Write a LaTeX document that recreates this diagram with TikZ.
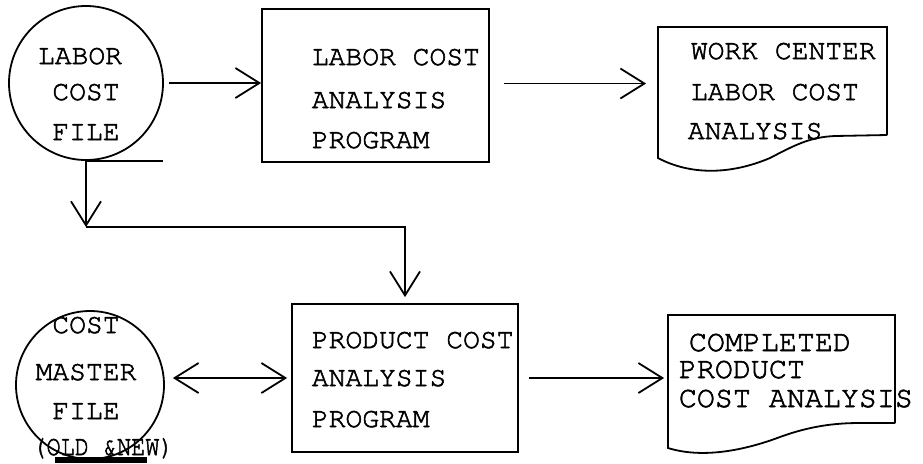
\documentclass[tikz,border=0pt]{standalone}
\usepackage{fontspec}
\setmonofont{texgyrecursor}[Extension=.otf,UprightFont=*-regular,UprightFeatures={FakeBold=2}]
\usetikzlibrary{arrows.meta,fit}

\begin{document}
\begin{tikzpicture}[x=0.5pt,y=-0.5pt,line width=0.9pt,
  tx/.style={font=\ttfamily\fontsize{14}{16}\selectfont,inner sep=0pt,anchor=base west},
  ctx/.style={tx,anchor=base},
  frame/.style={draw,inner sep=0pt},
  area/.style={inner sep=0pt},
  tape/.style={draw,circle,inner sep=0pt,minimum size=#1},
  barb/.tip={Straight Barb[length=12pt,width=15pt]},
  arr/.style={-barb},
  darr/.style={barb-barb}]
\useasboundingbox (0,0) rectangle (923,463);

% --- upper row: labor cost file -> analysis program -> report
\node[tape=77pt] (lcf) at (86,83) {};
\draw (lcf.south) -- ++(77,0);
\node[ctx] (lcf1) at (80,64) {LABOR};
\node[ctx] (lcf2) at (86,100) {COST};
\node[ctx] (lcf3) at (86,140) {FILE};

\node[frame,fit={(262,9) (489,162)}] (lcap) {};
\node[tx] (lcap1) at (311,65) {LABOR COST};
\node[tx] (lcap2) at (311,108) {ANALYSIS};
\node[tx] (lcap3) at (311,148) {PROGRAM};

\node[area,fit={(658,27) (887,158)}] (wcl) {};
\draw (887,135) -- (887,27) -- (658,27) -- (658,158)
  .. controls (690,175) and (730,175) .. (770,158)
  .. controls (795,145) and (810,137) .. (835,136) -- (887,135);
\node[tx] (wcl1) at (690,59) {WORK CENTER};
\node[tx] (wcl2) at (690,100) {LABOR COST};
\node[tx] (wcl3) at (687,139) {ANALYSIS};

% --- lower row: master file <-> product cost program -> report
\node[tape=74pt] (cmf) at (90,385) {};
\fill (55,457) rectangle (147,463);
\node[ctx] (cmf1) at (86,333) {COST};
\node[ctx] (cmf2) at (86,380) {MASTER};
\node[ctx] (cmf3) at (86,419) {FILE};
\node[ctx] (cmf4) at (103,455) {\scalebox{0.84}[1]{(OLD \&NEW)}};

\node[frame,fit={(292,304) (518,452)}] (pca) {};
\node[tx] (pca1) at (311,348) {PRODUCT COST};
\node[tx] (pca2) at (311,386) {ANALYSIS};
\node[tx] (pca3) at (311,427) {PROGRAM};

\node[area,fit={(668,315) (895,448)}] (cpa) {};
\draw (895,423) -- (895,315) -- (668,315) -- (668,448)
  .. controls (700,458) and (740,452) .. (780,437)
  .. controls (810,426) and (835,423) .. (860,423) -- (895,423);
\node[tx,font=\ttfamily\fontsize{15}{17}\selectfont] (cpa1) at (688,351) {COMPLETED};
\node[tx,font=\ttfamily\fontsize{15}{17}\selectfont] (cpa2) at (678,378) {PRODUCT};
\node[tx,font=\ttfamily\fontsize{15}{17}\selectfont] (cpa3) at (678,407) {COST ANALYSIS};

% --- connectors
\coordinate (jn) at (86,227);
\draw[arr,shorten <=2.5pt] (lcf.east) -- (lcf.east -| lcap.west);
\draw[arr,shorten <=7pt,shorten >=5.5pt] ([yshift=1pt]lcap.east) -- ([yshift=1pt]lcap.east -| wcl.west);
\draw[arr] (lcf.south) -- (jn);
\draw[arr,shorten >=3pt] (jn) -| (pca.north);
\draw[darr,shorten <=4pt,shorten >=2pt] ([yshift=3.5pt]cmf.east) -- ([yshift=3.5pt]cmf.east -| pca.west);
\draw[arr,shorten <=5pt,shorten >=1.5pt] (pca.east) -- (pca.east -| cpa.west);
\end{tikzpicture}
\end{document}
